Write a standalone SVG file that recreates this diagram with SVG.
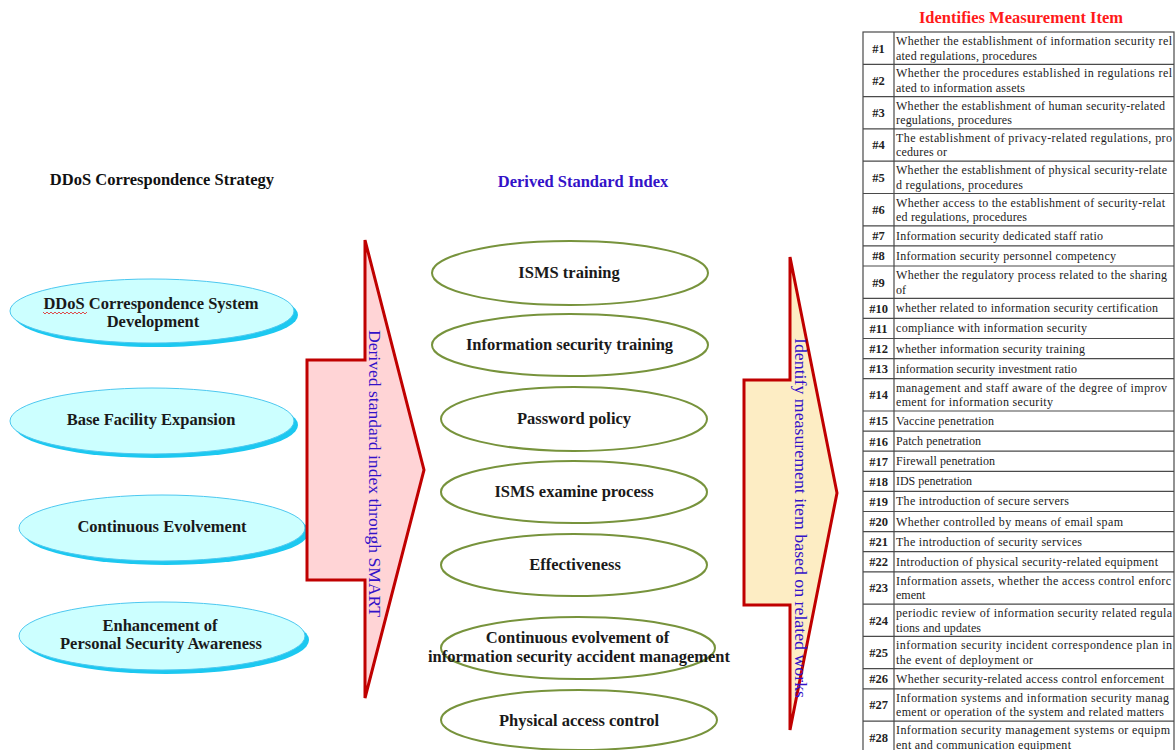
<svg xmlns="http://www.w3.org/2000/svg" width="1175" height="750" viewBox="0 0 1175 750">
<style>
.title{font-family:"Liberation Serif","Times New Roman",serif;font-weight:bold;font-size:16.5px;text-anchor:middle}
.nl{font-family:"Liberation Serif","Times New Roman",serif;font-weight:bold;font-size:16.5px;text-anchor:middle;fill:#1a1a1a}
.cy{fill:#ccffff;stroke:#4cc8f0;stroke-width:1}
.cys{fill:#1cc8f0}
.gr{fill:#ffffff;stroke:#77933c;stroke-width:2}
.arrow{stroke:#c00000;stroke-width:3;stroke-linejoin:miter}
.vt{font-family:"Liberation Serif","Times New Roman",serif;fill:#3312c8;text-anchor:middle}
.grid{fill:none;stroke:#4a4a4a;stroke-width:1.2}
.num{font-family:"Liberation Serif","Times New Roman",serif;font-weight:bold;font-size:12.5px;text-anchor:middle;fill:#222}
.cell{font-family:"Liberation Serif","Times New Roman",serif;font-size:12px;fill:#222}
</style>

<text class="title" x="162" y="185" fill="#111">DDoS Correspondence Strategy</text>
<text class="title" x="583" y="187" fill="#3312c8">Derived Standard Index</text>
<text class="title" x="1021" y="23" fill="#ff1a1a">Identifies Measurement Item</text>

<g id="strategy-1">
<ellipse class="cys" cx="156" cy="315" rx="142" ry="32"/>
<ellipse class="cy" cx="152" cy="311" rx="142" ry="32"/>
<text class="nl" x="151" y="309">DDoS Correspondence System</text>
<text class="nl" x="153" y="327">Development</text>
<polyline points="43,312 45,314 47,312 49,314 51,312 53,314 55,312 57,314 59,312 61,314 63,312 65,314 67,312 69,314 71,312 73,314 75,312 77,314 79,312 81,314 83,312 85,314 87,312" fill="none" stroke="#e02020" stroke-width="0.8"/>
</g>
<g id="strategy-2">
<ellipse class="cys" cx="156" cy="425" rx="142" ry="33"/>
<ellipse class="cy" cx="152" cy="421" rx="142" ry="33"/>
<text class="nl" x="151" y="425">Base Facility Expansion</text>
</g>
<g id="strategy-3">
<ellipse class="cys" cx="166" cy="532" rx="143" ry="33"/>
<ellipse class="cy" cx="162" cy="528" rx="143" ry="33"/>
<text class="nl" x="162" y="532">Continuous Evolvement</text>
</g>
<g id="strategy-4">
<ellipse class="cys" cx="166" cy="640" rx="143" ry="34"/>
<ellipse class="cy" cx="162" cy="636" rx="143" ry="34"/>
<text class="nl" x="160" y="631">Enhancement of</text>
<text class="nl" x="161" y="649">Personal Security Awareness</text>
</g>

<g id="connectors">
<polygon class="arrow" fill="#ffd4d6" points="307,360 365,360 365,240 424,470 365,698 365,580 307,580"/>
<text class="vt" font-size="17.5" transform="translate(369,473.5) rotate(90)" textLength="287" lengthAdjust="spacingAndGlyphs">Derived standard index through SMART</text>
<polygon class="arrow" fill="#fdedc4" points="744,380 790,380 790,257 837,493 790,730 790,605 744,605"/>
<text class="vt" font-size="17" transform="translate(795,518) rotate(90)" textLength="360" lengthAdjust="spacingAndGlyphs">Identify measurement item based on related works</text>
</g>

<g id="index-1"><ellipse class="gr" cx="570" cy="273" rx="138" ry="32"/><text class="nl" x="569" y="278">ISMS training</text></g>
<g id="index-2"><ellipse class="gr" cx="570" cy="345" rx="138" ry="31"/><text class="nl" x="569.5" y="350">Information security training</text></g>
<g id="index-3"><ellipse class="gr" cx="574" cy="419" rx="133" ry="32"/><text class="nl" x="574" y="424">Password policy</text></g>
<g id="index-4"><ellipse class="gr" cx="574" cy="492" rx="133" ry="31"/><text class="nl" x="574" y="497">ISMS examine process</text></g>
<g id="index-5"><ellipse class="gr" cx="574" cy="565" rx="133" ry="31"/><text class="nl" x="575" y="570">Effectiveness</text></g>
<g id="index-6"><ellipse class="gr" cx="578" cy="648" rx="137" ry="31"/><text class="nl" x="577.5" y="643">Continuous evolvement of</text><text class="nl" x="579" y="662">information security accident management</text></g>
<g id="index-7"><ellipse class="gr" cx="579" cy="720" rx="138" ry="30"/><text class="nl" x="579" y="726">Physical access control</text></g>

<g id="measurement-table">
<rect class="grid" x="863" y="32" width="311" height="721.4"/>
<line class="grid" x1="894" y1="32" x2="894" y2="753.4"/>
<path class="grid" d="M863 64.3H1174M863 96.6H1174M863 128.9H1174M863 161.2H1174M863 193.5H1174M863 225.8H1174M863 245.9H1174M863 266H1174M863 298.3H1174M863 318.4H1174M863 338.5H1174M863 358.6H1174M863 378.7H1174M863 411H1174M863 431.1H1174M863 451.2H1174M863 471.3H1174M863 491.4H1174M863 511.5H1174M863 531.6H1174M863 551.7H1174M863 571.8H1174M863 604.1H1174M863 636.4H1174M863 668.7H1174M863 688.8H1174M863 721.1H1174"/>

<g id="item-1"><text class="num" x="878.5" y="52.5">#1</text><text class="cell" x="896" y="45" textLength="276" lengthAdjust="spacing">Whether the establishment of information security rel</text><text class="cell" x="896" y="59.5" textLength="141" lengthAdjust="spacing">ated regulations, procedures</text></g>
<g id="item-2"><text class="num" x="878.5" y="84.8">#2</text><text class="cell" x="896" y="77.3" textLength="276" lengthAdjust="spacing">Whether the procedures established in regulations rel</text><text class="cell" x="896" y="91.8" textLength="129" lengthAdjust="spacing">ated to information assets</text></g>
<g id="item-3"><text class="num" x="878.5" y="117.1">#3</text><text class="cell" x="896" y="109.6" textLength="269" lengthAdjust="spacing">Whether the establishment of human security-related</text><text class="cell" x="896" y="124.1" textLength="116" lengthAdjust="spacing">regulations, procedures</text></g>
<g id="item-4"><text class="num" x="878.5" y="149.4">#4</text><text class="cell" x="896" y="141.9" textLength="276" lengthAdjust="spacing">The establishment of privacy-related regulations, pro</text><text class="cell" x="896" y="156.4" textLength="51" lengthAdjust="spacing">cedures or</text></g>
<g id="item-5"><text class="num" x="878.5" y="181.7">#5</text><text class="cell" x="896" y="174.2" textLength="271" lengthAdjust="spacing">Whether the establishment of physical security-relate</text><text class="cell" x="896" y="188.7" textLength="127" lengthAdjust="spacing">d regulations, procedures</text></g>
<g id="item-6"><text class="num" x="878.5" y="214">#6</text><text class="cell" x="896" y="206.5" textLength="269" lengthAdjust="spacing">Whether access to the establishment of security-relat</text><text class="cell" x="896" y="221" textLength="131" lengthAdjust="spacing">ed regulations, procedures</text></g>
<g id="item-7"><text class="num" x="878.5" y="240.2">#7</text><text class="cell" x="896" y="239.8" textLength="207" lengthAdjust="spacing">Information security dedicated staff ratio</text></g>
<g id="item-8"><text class="num" x="878.5" y="260.3">#8</text><text class="cell" x="896" y="259.9" textLength="220" lengthAdjust="spacing">Information security personnel competency</text></g>
<g id="item-9"><text class="num" x="878.5" y="286.5">#9</text><text class="cell" x="896" y="279" textLength="271" lengthAdjust="spacing">Whether the regulatory process related to the sharing</text><text class="cell" x="896" y="293.5">of</text></g>
<g id="item-10"><text class="num" x="878.5" y="312.7">#10</text><text class="cell" x="896" y="312.3" textLength="262" lengthAdjust="spacing">whether related to information security certification</text></g>
<g id="item-11"><text class="num" x="878.5" y="332.8">#11</text><text class="cell" x="896" y="332.4" textLength="191" lengthAdjust="spacing">compliance with information security</text></g>
<g id="item-12"><text class="num" x="878.5" y="352.9">#12</text><text class="cell" x="896" y="352.5" textLength="189" lengthAdjust="spacing">whether information security training</text></g>
<g id="item-13"><text class="num" x="878.5" y="373">#13</text><text class="cell" x="896" y="372.6" textLength="181" lengthAdjust="spacing">information security investment ratio</text></g>
<g id="item-14"><text class="num" x="878.5" y="399.2">#14</text><text class="cell" x="896" y="391.7" textLength="271" lengthAdjust="spacing">management and staff aware of the degree of improv</text><text class="cell" x="896" y="406.2" textLength="157" lengthAdjust="spacing">ement for information security</text></g>
<g id="item-15"><text class="num" x="878.5" y="425.4">#15</text><text class="cell" x="896" y="425" textLength="98" lengthAdjust="spacing">Vaccine penetration</text></g>
<g id="item-16"><text class="num" x="878.5" y="445.5">#16</text><text class="cell" x="896" y="445.1" textLength="85" lengthAdjust="spacing">Patch penetration</text></g>
<g id="item-17"><text class="num" x="878.5" y="465.6">#17</text><text class="cell" x="896" y="465.2" textLength="99" lengthAdjust="spacing">Firewall penetration</text></g>
<g id="item-18"><text class="num" x="878.5" y="485.7">#18</text><text class="cell" x="896" y="485.3" textLength="76" lengthAdjust="spacing">IDS penetration</text></g>
<g id="item-19"><text class="num" x="878.5" y="505.8">#19</text><text class="cell" x="896" y="505.4" textLength="173" lengthAdjust="spacing">The introduction of secure servers</text></g>
<g id="item-20"><text class="num" x="878.5" y="525.9">#20</text><text class="cell" x="896" y="525.5" textLength="227" lengthAdjust="spacing">Whether controlled by means of email spam</text></g>
<g id="item-21"><text class="num" x="878.5" y="546">#21</text><text class="cell" x="896" y="545.6" textLength="186" lengthAdjust="spacing">The introduction of security services</text></g>
<g id="item-22"><text class="num" x="878.5" y="566.1">#22</text><text class="cell" x="896" y="565.7" textLength="262" lengthAdjust="spacing">Introduction of physical security-related equipment</text></g>
<g id="item-23"><text class="num" x="878.5" y="592.3">#23</text><text class="cell" x="896" y="584.8" textLength="275" lengthAdjust="spacing">Information assets, whether the access control enforc</text><text class="cell" x="896" y="599.3">ement</text></g>
<g id="item-24"><text class="num" x="878.5" y="624.6">#24</text><text class="cell" x="896" y="617.1" textLength="276" lengthAdjust="spacing">periodic review of information security related regula</text><text class="cell" x="896" y="631.6" textLength="85" lengthAdjust="spacing">tions and updates</text></g>
<g id="item-25"><text class="num" x="878.5" y="656.9">#25</text><text class="cell" x="896" y="649.4" textLength="276" lengthAdjust="spacing">information security incident correspondence plan in</text><text class="cell" x="896" y="663.9" textLength="137" lengthAdjust="spacing">the event of deployment or</text></g>
<g id="item-26"><text class="num" x="878.5" y="683.1">#26</text><text class="cell" x="896" y="682.7" textLength="268" lengthAdjust="spacing">Whether security-related access control enforcement</text></g>
<g id="item-27"><text class="num" x="878.5" y="709.3">#27</text><text class="cell" x="896" y="701.8" textLength="273" lengthAdjust="spacing">Information systems and information security manag</text><text class="cell" x="896" y="716.3" textLength="268" lengthAdjust="spacing">ement or operation of the system and related matters</text></g>
<g id="item-28"><text class="num" x="878.5" y="741.6">#28</text><text class="cell" x="896" y="734.1" textLength="274" lengthAdjust="spacing">Information security management systems or equipm</text><text class="cell" x="896" y="748.6" textLength="175" lengthAdjust="spacing">ent and communication equipment</text></g>
</g>
</svg>
